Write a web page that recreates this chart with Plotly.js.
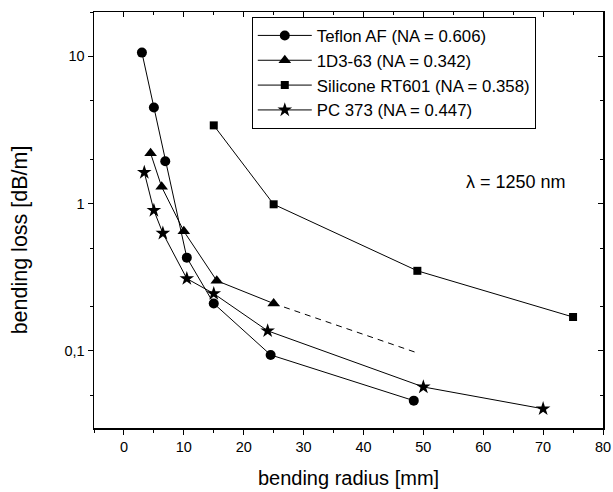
<!DOCTYPE html>
<html><head><meta charset="utf-8">
<script src="https://cdn.plot.ly/plotly-3.0.1.min.js"></script>
<style>html,body{margin:0;padding:0;background:#fff}#chart{width:613px;height:492px}</style>
</head><body><div id="chart"></div>
<script>
const teflonX = [3, 5, 6.9, 10.5, 15, 24.5, 48.4];
const teflonY = [10.6, 4.5, 1.94, 0.43, 0.21, 0.094, 0.046];
const d3X = [4.45, 6.3, 10, 15.5, 25];
const d3Y = [2.2, 1.3, 0.65, 0.30, 0.21];
const d3ExtX = [25, 49];
const d3ExtY = [0.21, 0.097];
const siliconeX = [15, 25, 49, 75];
const siliconeY = [3.4, 0.99, 0.35, 0.17];
const pcX = [3.4, 5, 6.5, 10.5, 15, 24, 50, 70];
const pcY = [1.63, 0.9, 0.63, 0.31, 0.245, 0.137, 0.057, 0.0405];
const names = ['Teflon AF (NA = 0.606)', '1D3-63 (NA = 0.342)', 'Silicone RT601 (NA = 0.358)', 'PC 373 (NA = 0.447)'];
const yTickVals = [0.1, 1, 10];
const yTickText = ['0,1', '1', '10'];
const xTickVals = [0, 10, 20, 30, 40, 50, 60, 70, 80];

const font = 'Arial, "Liberation Sans", sans-serif';
const line = {color: '#000', width: 1};
const traces = [
  {x: teflonX, y: teflonY, name: names[0], mode: 'lines+markers', line: line,
   marker: {symbol: 'circle', size: 10, color: '#000'}},
  {x: d3X, y: d3Y, name: names[1], mode: 'lines+markers', line: line,
   marker: {symbol: 'triangle-up', size: 11, color: '#000'}},
  {x: siliconeX, y: siliconeY, name: names[2], mode: 'lines+markers', line: line,
   marker: {symbol: 'square', size: 8, color: '#000'}},
  {x: pcX, y: pcY, name: names[3], mode: 'lines+markers', line: line,
   marker: {symbol: 'star', size: 11, color: '#000'}},
  {x: d3ExtX, y: d3ExtY, mode: 'lines', showlegend: false,
   line: {color: '#000', width: 1, dash: '6px,5px'}},
  {x: [null], y: [null], xaxis: 'x2', yaxis: 'y2', showlegend: false, hoverinfo: 'skip'}
];

const layout = {
  width: 613, height: 492,
  margin: {l: 94, r: 10, t: 12, b: 64},
  paper_bgcolor: '#fff', plot_bgcolor: '#fff',
  font: {family: font, color: '#000', size: 14},
  showlegend: true,
  legend: {x: 0.31, y: 0.988, xanchor: 'left', yanchor: 'top', itemwidth: 54,
    bordercolor: '#000', borderwidth: 1, bgcolor: '#fff',
    font: {family: font, size: 16.8, color: '#000'}, tracegroupgap: 0},
  xaxis: {range: [-5, 80], tickvals: xTickVals, ticks: 'outside', ticklen: 5, tickwidth: 1,
    tickcolor: '#000', showline: true, linecolor: '#000', linewidth: 1.5, showgrid: false, zeroline: false,
    minor: {dtick: 5, tick0: -5, ticks: 'outside', ticklen: 3, tickcolor: '#000', showgrid: false},
    tickfont: {family: font, size: 14.5},
    title: {text: 'bending radius [mm]', font: {family: font, size: 20}, standoff: 17}},
  yaxis: {type: 'log', range: [Math.log10(0.03), Math.log10(20)], tickvals: yTickVals, ticktext: yTickText,
    ticks: 'outside', ticklen: 5, tickwidth: 1, tickcolor: '#000', showline: true, linecolor: '#000', linewidth: 1.5,
    showgrid: false, zeroline: false,
    minor: {dtick: 'D2', ticks: 'outside', ticklen: 3, tickcolor: '#000', showgrid: false},
    tickfont: {family: font, size: 14.5}},
  xaxis2: {overlaying: 'x', matches: 'x', side: 'top', anchor: 'y2', range: [-5, 80], tickvals: xTickVals,
    ticks: 'inside', ticklen: 5, tickcolor: '#000', showticklabels: false, showline: true, linecolor: '#000',
    linewidth: 1.5, showgrid: false, zeroline: false,
    minor: {dtick: 5, tick0: -5, ticks: 'inside', ticklen: 3, tickcolor: '#000', showgrid: false}},
  yaxis2: {overlaying: 'y', side: 'right', anchor: 'x2', type: 'log', range: [Math.log10(0.03), Math.log10(20)],
    tickvals: yTickVals, ticks: 'inside', ticklen: 5, tickcolor: '#000', showticklabels: false,
    showline: true, linecolor: '#000', linewidth: 1.5, showgrid: false, zeroline: false,
    minor: {dtick: 'D2', ticks: 'inside', ticklen: 3, tickcolor: '#000', showgrid: false}},
  annotations: [
    {text: 'λ = 1250 nm', x: 65.5, y: Math.log10(1.4), xref: 'x', yref: 'y', showarrow: false,
     font: {family: font, size: 18, color: '#000'}},
    {text: 'bending loss [dB/m]', x: -0.145, y: 0.4515, xref: 'paper', yref: 'paper', textangle: -90,
     xanchor: 'center', yanchor: 'middle', showarrow: false, font: {family: font, size: 21.5, color: '#000'}}
  ]
};
Plotly.newPlot('chart', traces, layout, {displayModeBar: false, staticPlot: true});
</script></body></html>
